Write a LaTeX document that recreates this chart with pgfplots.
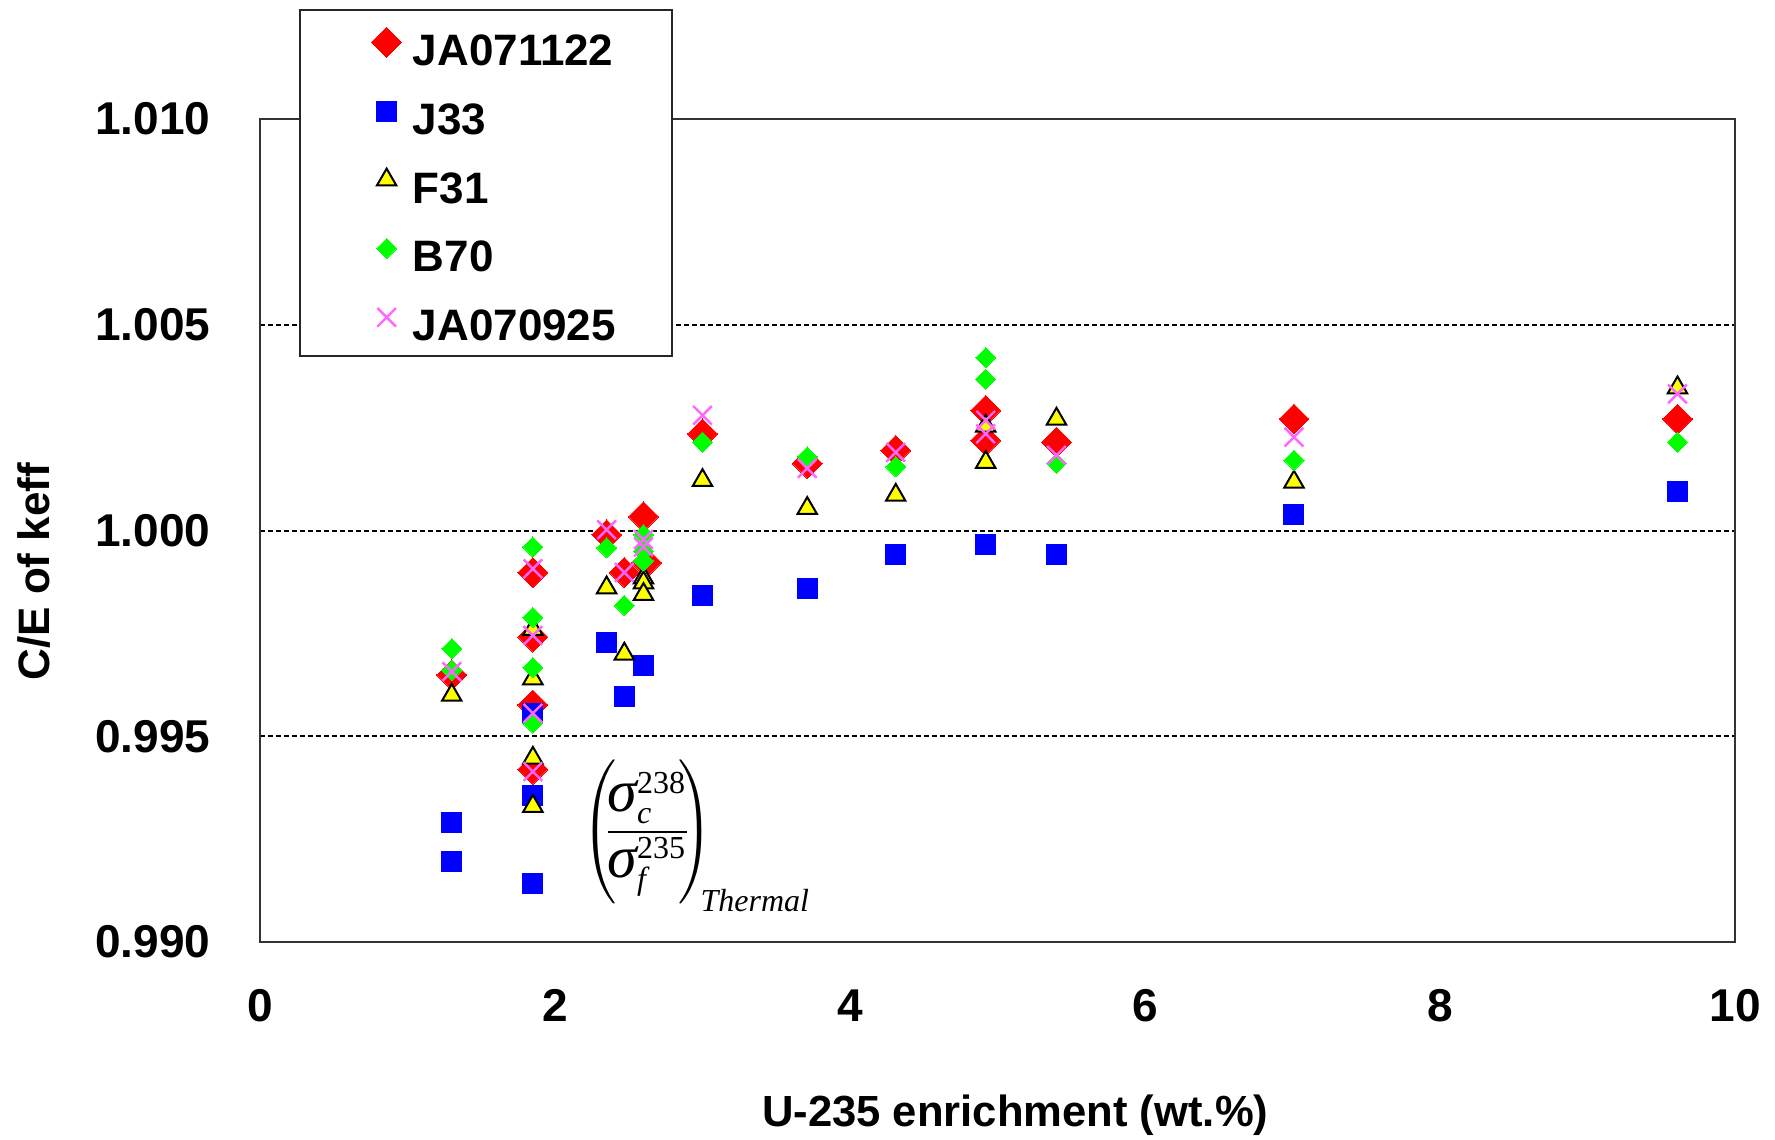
\documentclass[border=0pt]{standalone}
\usepackage{pgfplots}
\pgfplotsset{compat=1.18}
\usepackage{pgfplotstable}
\usepackage{fontspec}
\setmainfont{Liberation Sans}
\newfontfamily\tms{Liberation Serif}
\definecolor{jared}{RGB}{255,0,0}
\definecolor{jblue}{RGB}{0,0,255}
\definecolor{fyel}{RGB}{255,255,0}
\definecolor{bgreen}{RGB}{0,255,0}
\definecolor{jpink}{RGB}{255,102,255}

\pgfplotstableread{
x y
1.30 0.99649
1.85 0.99898
1.85 0.99741
1.85 0.99576
1.85 0.99420
2.35 0.99990
2.47 0.99898
2.60 1.00034
2.62 0.99922
3.00 1.00235
3.71 1.00163
4.31 1.00195
4.92 1.00292
4.92 1.00219
5.40 1.00215
7.01 1.00271
9.61 1.00271
}\tabA

\pgfplotstableread{
x y
1.30 0.99291
1.30 0.99196
1.85 0.99556
1.85 0.99355
1.85 0.99142
2.35 0.99729
2.47 0.99596
2.60 0.99673
3.00 0.99842
3.71 0.99858
4.31 0.99942
4.92 0.99966
5.40 0.99942
7.01 1.00039
9.61 1.00095
}\tabB

\pgfplotstableread{
x y
1.30 0.99600
1.85 0.99760
1.85 0.99640
1.85 0.99447
1.85 0.99330
2.35 0.99861
2.47 0.99700
2.60 0.99885
2.60 0.99873
2.60 0.99845
3.00 1.00122
3.71 1.00054
4.31 1.00086
4.92 1.00254
4.92 1.00166
5.40 1.00271
7.01 1.00118
9.61 1.00347
}\tabC

\pgfplotstableread{
x y
1.30 0.99713
1.30 0.99660
1.85 0.99960
1.85 0.99789
1.85 0.99667
1.85 0.99532
2.35 0.99958
2.47 0.99818
2.60 0.99990
2.60 0.99950
2.60 0.99926
3.00 1.00215
3.71 1.00179
4.31 1.00155
4.92 1.00420
4.92 1.00368
5.40 1.00163
7.01 1.00171
9.61 1.00215
}\tabD

\pgfplotstableread{
x y
1.30 0.99657
1.85 0.99907
1.85 0.99745
1.85 0.99556
1.85 0.99414
2.35 1.00002
2.47 0.99898
2.60 0.99978
2.60 0.99960
3.00 1.00280
3.71 1.00151
4.31 1.00190
4.92 1.00268
4.92 1.00235
5.40 1.00183
7.01 1.00227
9.61 1.00332
}\tabE

\begin{document}
\begin{tikzpicture}
\path[use as bounding box] (-65pt,-49.25pt) rectangle (378.75pt,235.5pt);
\begin{axis}[
  at={(0pt,0pt)}, anchor=south west,
  scale only axis, width=368.75pt, height=205.75pt,
  xmin=0, xmax=10, ymin=0.990, ymax=1.010,
  xtick={0,2,4,6,8,10}, xticklabels={0,2,4,6,8,10},
  ytick={0.990,0.995,1.000,1.005,1.010},
  yticklabels={0.990,0.995,1.000,1.005,1.010},
  major tick length=0pt,
  ymajorgrids,
  major grid style={black, line width=0.5pt, dash pattern=on 1.25pt off 0.75pt},
  axis line style={black!80, line width=0.5pt},
  ticklabel style={font=\fontsize{11.5}{13}\selectfont\bfseries},
  yticklabel style={xshift=-8.9pt},
  xticklabel style={yshift=-8.3pt},
  xlabel={U-235 enrichment (wt.\%)},
  ylabel={C/E of keff},
  xlabel style={at={(axis description cs:0.512,-0.21)}, anchor=center, font=\fontsize{10.9}{13}\selectfont\bfseries},
  ylabel style={at={(axis description cs:-0.1532,0.45)}, anchor=center, font=\fontsize{11}{13}\selectfont\bfseries},
  only marks,
  legend image code/.code={\path[draw=none,fill=none] (-7.75pt,0pt) -- (3.75pt,0pt); \draw[#1] plot coordinates {(0pt,0.75pt)};},
  legend cell align=left,
  legend style={at={(axis description cs:0.0262,1.1337)}, anchor=north west,
    draw=black!85, line width=0.5pt, fill=white,
    font=\fontsize{11}{13}\selectfont\bfseries,
    nodes={inner sep=0pt, text height=12.9pt, text depth=2.75pt},
    inner xsep=14pt, inner ysep=1pt, row sep=1.54pt,
    /tikz/every odd column/.append style={column sep=2.8pt}},
  clip=false,
]
\addplot[mark=square*, color=jared, mark size=2.65pt, mark options={rotate=45, line width=0pt}] table[x=x,y=y] {\tabA};
\addlegendentry{JA071122}
\addplot[mark=square*, color=jblue, mark size=2.5pt, mark options={line width=0pt}] table[x=x,y=y] {\tabB};
\addlegendentry{J33}
\addplot[mark=triangle*, color=black, mark size=2.8pt, mark options={fill=fyel, draw=black, line width=0.5pt}] table[x=x,y=y] {\tabC};
\addlegendentry{F31}
\addplot[mark=square*, color=bgreen, mark size=1.77pt, mark options={rotate=45, line width=0pt}] table[x=x,y=y] {\tabD};
\addlegendentry{B70}
\addplot[mark=x, color=jpink, mark size=3.3pt, mark options={line width=0.6pt}] table[x=x,y=y] {\tabE};
\addlegendentry{JA070925}

\node[anchor=center, inner sep=0pt, font=\fontsize{12.5}{14}\selectfont] at (axis cs:2.626,0.99267)
  {$\left(\mkern-5mu\rule[-16pt]{0pt}{38pt}{\displaystyle\frac{\mbox{\fontsize{15}{16}\tms\itshape σ}^{\mbox{\fontsize{8}{9}\tms 238}}_{\mbox{\fontsize{8}{9}\tms\itshape c}}}{\mbox{\fontsize{15}{16}\tms\itshape σ}^{\mbox{\fontsize{8}{9}\tms 235}}_{\mbox{\fontsize{8}{9}\tms\itshape f}}}}\mkern-5mu\right)$};
\node[anchor=base west, inner sep=0pt, font=\fontsize{8}{9}\tms\itshape] at (axis cs:2.982,0.99074) {Thermal};
\end{axis}
\end{tikzpicture}
\end{document}
